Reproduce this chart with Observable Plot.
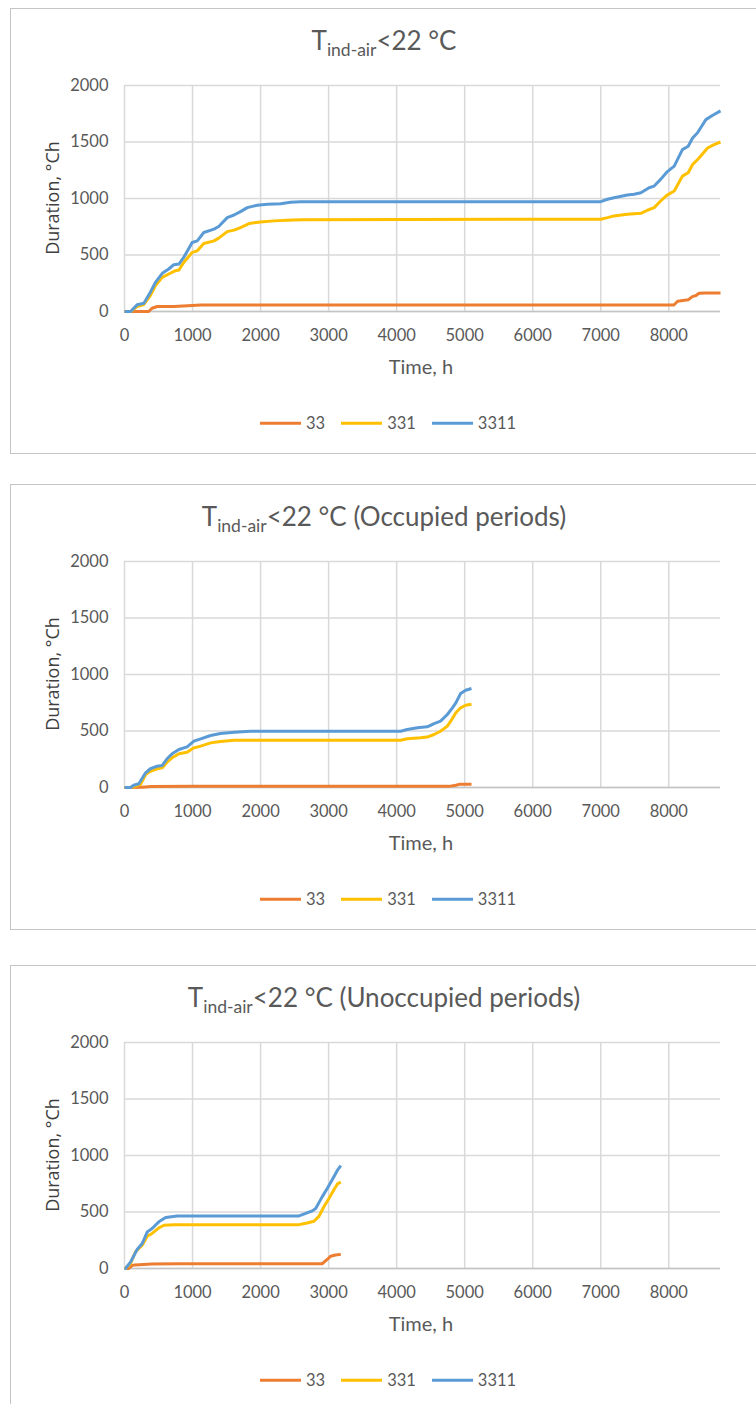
<!DOCTYPE html>
<html><head><meta charset="utf-8">
<script src="https://cdn.jsdelivr.net/npm/d3@7"></script>
<script src="https://cdn.jsdelivr.net/npm/@observablehq/plot@0.6"></script>
<style>
html,body{margin:0;padding:0;background:#fff;}
#page{position:relative;width:756px;height:1404px;overflow:hidden;font-family:Lato,"Liberation Sans",sans-serif;color:#595959;background:#fff;}
.panel{position:absolute;left:10px;width:760px;height:446px;border:1px solid #c4c4c4;box-sizing:border-box;}
.txt{position:absolute;white-space:nowrap;transform:translate(-50%,-50%);line-height:1;}
.title{font-size:26px;}
.title .sub{font-size:17.5px;vertical-align:-6px;}
.xlab{font-size:20px;}
.ylab{font-family:"Open Sans",sans-serif;font-size:18px;color:#404040;transform:translate(-50%,-50%) rotate(-90deg);}
.legend{position:absolute;display:flex;align-items:center;font-size:16.5px;line-height:1;transform:translateY(-50%);}
.legend .item{display:flex;align-items:center;margin-right:16px;}
.legend .sw{width:41px;height:3.5px;margin-right:5px;}
svg{position:absolute;left:0;}
</style></head>
<body><div id="page"></div>
<script>
// ---- data ----
const seriesNames = ["33", "331", "3311"];
const seriesColors = ["#ED7D31", "#FFC000", "#5B9BD5"];
const titleSuffixes = ["", " (Occupied periods)", " (Unoccupied periods)"];
const xTicks = [0, 1000, 2000, 3000, 4000, 5000, 6000, 7000, 8000];
const yTicks = [0, 500, 1000, 1500, 2000];
const xMax = 8760;

// Panel 1: all hours
const p1_t33 = [0, 355, 405, 480, 725, 995, 1120, 2000, 8075, 8130, 8285, 8345, 8400, 8445, 8545, 8760];
const p1_v33 = [0, 0, 29, 44, 44, 53, 57, 57, 57, 91, 103, 132, 141, 161, 164, 164];
const p1_t331 = [0, 90, 185, 285, 380, 455, 555, 650, 750, 800, 870, 995, 1070, 1165, 1315, 1385, 1510, 1610, 1705, 1830, 2000, 2195, 2390, 2590, 7000, 7100, 7195, 7390, 7590, 7685, 7785, 7880, 7970, 8080, 8200, 8285, 8350, 8445, 8570, 8665, 8760];
const p1_v331 = [0, 0, 44, 62, 141, 229, 302, 332, 361, 367, 434, 523, 537, 602, 625, 649, 707, 720, 743, 778, 793, 802, 807, 813, 817, 831, 846, 861, 869, 896, 919, 978, 1028, 1066, 1198, 1228, 1301, 1359, 1447, 1477, 1500];
const p1_t3311 = [0, 90, 185, 285, 380, 455, 555, 650, 725, 800, 870, 995, 1070, 1165, 1315, 1385, 1510, 1610, 1705, 1805, 1950, 2100, 2295, 2440, 2590, 7000, 7100, 7195, 7390, 7490, 7590, 7710, 7785, 7880, 7970, 8080, 8200, 8285, 8350, 8420, 8545, 8640, 8760];
const p1_v3311 = [0, 0, 59, 73, 170, 258, 338, 376, 414, 420, 478, 611, 625, 699, 729, 752, 831, 854, 884, 919, 940, 949, 954, 966, 972, 972, 993, 1007, 1031, 1037, 1051, 1095, 1110, 1169, 1233, 1286, 1433, 1462, 1536, 1580, 1698, 1735, 1775];

// Panel 2: occupied periods
const p2_t33 = [0, 250, 400, 1000, 4770, 4870, 4920, 5100];
const p2_v33 = [0, 3, 8, 10, 10, 20, 28, 28];
const p2_t331 = [0, 90, 160, 235, 310, 380, 480, 555, 625, 700, 800, 920, 1020, 1120, 1265, 1410, 1610, 4060, 4155, 4350, 4450, 4550, 4645, 4745, 4795, 4870, 4940, 5015, 5100];
const p2_v331 = [0, 0, 12, 27, 115, 144, 166, 174, 224, 263, 298, 312, 351, 366, 395, 407, 418, 418, 431, 440, 446, 469, 498, 543, 587, 661, 705, 728, 737];
const p2_t3311 = [0, 90, 135, 210, 310, 380, 480, 555, 625, 700, 800, 920, 1020, 1120, 1265, 1410, 1610, 1850, 4060, 4155, 4305, 4450, 4550, 4645, 4745, 4820, 4870, 4940, 5015, 5100];
const p2_v3311 = [0, 0, 20, 33, 130, 166, 189, 195, 254, 298, 336, 360, 410, 431, 460, 478, 489, 498, 498, 513, 528, 537, 566, 587, 646, 705, 749, 832, 861, 876];

// Panel 3: unoccupied periods
const p3_t33 = [0, 60, 110, 150, 400, 800, 2905, 2980, 3030, 3100, 3180];
const p3_v33 = [0, 0, 25, 32, 40, 42, 42, 80, 109, 120, 125];
const p3_t331 = [0, 15, 90, 160, 260, 335, 405, 505, 580, 725, 2565, 2685, 2785, 2860, 2930, 3005, 3080, 3135, 3180];
const p3_v331 = [0, 0, 44, 147, 206, 286, 310, 360, 383, 388, 388, 403, 418, 463, 546, 620, 699, 752, 765];
const p3_t3311 = [0, 15, 90, 185, 260, 335, 405, 505, 605, 775, 2565, 2635, 2760, 2810, 2905, 2980, 3055, 3130, 3180];
const p3_v3311 = [0, 0, 58, 168, 221, 324, 354, 413, 451, 465, 465, 481, 510, 531, 634, 708, 788, 870, 910];

const panelsData = [
  [[p1_t33, p1_v33], [p1_t331, p1_v331], [p1_t3311, p1_v3311]],
  [[p2_t33, p2_v33], [p2_t331, p2_v331], [p2_t3311, p2_v3311]],
  [[p3_t33, p3_v33], [p3_t331, p3_v331], [p3_t3311, p3_v3311]]
];
const panelTops = [8, 484, 965];

// ---- drawing ----
const page = document.getElementById("page");
function el(tag, cls, html, style) {
  const e = document.createElement(tag);
  if (cls) e.className = cls;
  if (html != null) e.innerHTML = html;
  Object.assign(e.style, style || {});
  page.appendChild(e);
  return e;
}

const fmt = d3.format("d");
const mT = 10, mB = 70, plotH = 226;
panelsData.forEach((series, i) => {
  const T = panelTops[i];
  el("div", "panel", null, {top: T + "px"});
  el("div", "txt title", 'T<span class="sub">ind-air</span>&lt;22 °C' + titleSuffixes[i], {left: "384px", top: (T + 35) + "px"});

  const marks = [
    Plot.gridX(xTicks, {stroke: "#d9d9d9", strokeOpacity: 1, strokeWidth: 1.5}),
    Plot.gridY(yTicks, {stroke: "#d9d9d9", strokeOpacity: 1, strokeWidth: 1.5}),
    Plot.ruleY([0], {stroke: "#c4c4c4", strokeWidth: 1.5}),
    Plot.axisX(xTicks, {tickSize: 0, tickPadding: 18, label: null, fontSize: 16.5, tickFormat: fmt}),
    Plot.axisY(yTicks, {tickSize: 0, tickPadding: 16, label: null, fontSize: 16.5, tickFormat: fmt})
  ];
  series.forEach(([t, v], k) => {
    const rows = t.map((x, j) => ({time: x, dur: v[j]}));
    marks.push(Plot.line(rows, {x: "time", y: "dur", stroke: seriesColors[k], strokeWidth: 3, strokeLinejoin: "round", strokeLinecap: "butt"}));
  });

  const svg = Plot.plot({
    width: 756,
    height: mT + plotH + mB,
    marginTop: mT, marginBottom: mB, marginLeft: 124, marginRight: 36,
    x: {domain: [0, xMax]},
    y: {domain: [0, 2000]},
    style: {fontFamily: "Lato, sans-serif", fontSize: "16px", color: "#595959", background: "transparent", overflow: "visible"},
    marks
  });
  svg.style.top = (T + 77 - mT) + "px";
  page.appendChild(svg);

  el("div", "txt xlab", "Time, h", {left: "421px", top: (T + 358) + "px"});
  el("div", "txt ylab", "Duration, °Ch", {left: "52px", top: (T + 190) + "px"});

  const lg = el("div", "legend", null, {left: "260px", top: (T + 415) + "px"});
  seriesNames.forEach((n, k) => {
    const it = document.createElement("div");
    it.className = "item";
    it.innerHTML = `<div class="sw" style="background:${seriesColors[k]}"></div><span>${n}</span>`;
    lg.appendChild(it);
  });
});
</script>
</body></html>
